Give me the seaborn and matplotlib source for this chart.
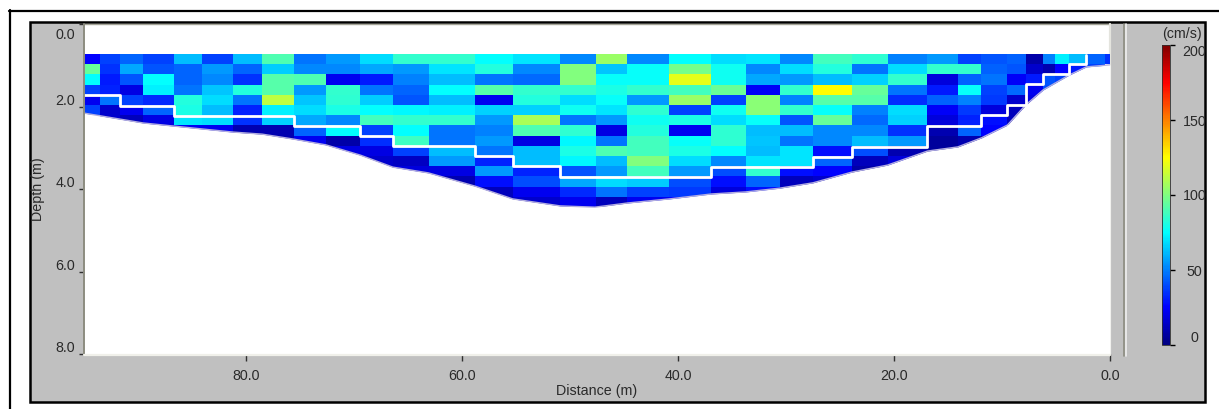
import numpy as np
import pandas as pd
import seaborn as sns
import matplotlib.pyplot as plt
from matplotlib.colors import LinearSegmentedColormap
from matplotlib.lines import Line2D
from matplotlib.patches import Rectangle
from matplotlib.transforms import ScaledTranslation

W, H = 1219, 409

# Column edges along the section (m from right bank), left to right
col_edges = [95.0, 93.5, 91.7, 89.5, 86.7, 84.1, 81.2, 78.5, 75.6, 72.6, 69.4, 66.4,
             63.1, 58.8, 55.3, 50.9, 47.6, 44.7, 40.8, 36.9, 33.7, 30.6, 27.5, 23.9,
             20.6, 16.9, 14.1, 11.9, 9.5, 7.8, 6.2, 5.1, 3.8, 2.2, 0.5, 0.0]

# Velocity (cm/s) per column, top cell first
velocity = [
    [25, 95, 75, 38, 22, 38],
    [38, 35, 30, 32, 48, 15, 15],
    [45, 58, 42, 20, 38, 22, 12],
    [38, 42, 75, 72, 33, 45, 20, 15],
    [62, 45, 45, 48, 82, 80, 70, 22],
    [38, 55, 52, 64, 68, 62, 68, 22],
    [62, 45, 35, 82, 48, 32, 35, 10],
    [90, 65, 92, 92, 112, 72, 66, 10, 10],
    [48, 52, 90, 55, 64, 68, 58, 45, 22],
    [55, 52, 22, 85, 84, 80, 52, 75, 8, 20],
    [68, 58, 30, 48, 65, 75, 88, 38, 34, 20, 15, 15],
    [85, 55, 50, 45, 42, 74, 85, 75, 87, 38, 14, 18],
    [85, 70, 62, 75, 62, 72, 85, 48, 48, 62, 55, 20, 10],
    [75, 82, 48, 92, 22, 66, 55, 50, 55, 48, 32, 55, 28, 12, 12],
    [70, 52, 46, 85, 82, 66, 108, 90, 20, 62, 62, 32, 40, 22, 15],
    [52, 100, 100, 85, 68, 78, 48, 84, 74, 80, 74, 42, 58, 33, 22],
    [105, 64, 76, 80, 76, 70, 55, 20, 48, 90, 62, 55, 68, 48, 12],
    [52, 76, 76, 85, 55, 84, 78, 82, 88, 88, 100, 88, 65, 38, 22],
    [75, 98, 120, 88, 105, 38, 80, 22, 76, 80, 68, 55, 40, 36, 25],
    [68, 78, 78, 96, 38, 78, 68, 84, 84, 75, 52, 40, 28, 18],
    [70, 52, 58, 24, 102, 102, 76, 62, 64, 62, 70, 85, 45, 28],
    [52, 68, 55, 85, 50, 85, 42, 62, 48, 70, 70, 28, 12, 10],
    [88, 82, 62, 125, 92, 76, 95, 52, 52, 28, 45, 25, 15],
    [84, 48, 66, 95, 92, 50, 46, 52, 62, 40, 12, 8],
    [50, 68, 85, 48, 34, 68, 66, 35, 55, 10, 18],
    [55, 85, 18, 30, 44, 24, 18, 10, 6, 6],
    [38, 85, 44, 76, 50, 36, 32, 45, 10, 8],
    [42, 44, 48, 38, 36, 18, 28, 25, 10],
    [44, 42, 24, 46, 15, 12, 12],
    [8, 15, 30, 22, 20],
    [50, 10, 42, 40],
    [72, 25, 38],
    [62, 30, 22],
    [45, 38],
    [35],
]

# Channel bed profile
bed_dist = [95.0, 89.5, 81.2, 78.5, 75.6, 72.6, 69.4, 66.4, 63.1, 58.8, 55.3, 50.9, 47.7,
            44.7, 40.8, 36.9, 33.7, 30.6, 27.5, 23.9, 20.6, 16.9, 14.1, 11.9, 9.5, 7.8,
            6.2, 3.8, 2.2, 0.0]
bed_depth = [2.16, 2.40, 2.62, 2.67, 2.79, 2.93, 3.18, 3.47, 3.61, 3.93, 4.24, 4.41, 4.44,
             4.34, 4.24, 4.12, 4.07, 3.98, 3.85, 3.59, 3.42, 3.08, 2.98, 2.76, 2.45, 1.96,
             1.60, 1.24, 1.04, 0.99]

# White boundary of the measured zone
zone_dist = [95.0, 91.7, 86.7, 75.6, 69.4, 66.4, 58.8, 55.3, 50.9, 36.9, 27.5, 23.9, 16.9,
             11.9, 9.5, 7.8, 6.2, 3.8, 2.2, 2.2]
zone_depth = [1.72, 1.98, 2.22, 2.47, 2.72, 2.96, 3.21, 3.45, 3.71, 3.46, 3.22, 2.97, 2.47,
              2.21, 1.96, 1.45, 1.21, 0.97, 0.75, 0.75]

depth_ticks = [0, 2, 4, 6, 8]
dist_ticks = [80, 60, 40, 20, 0]
speed_ticks = [0, 50, 100, 150, 200]

row_height = 0.2473
n_rows = 15
fine_step = 0.1

sns.set_theme(style='white')
plt.rcParams['font.family'] = ['Liberation Sans', 'DejaVu Sans']
TXT = '#2a2a2a'
FS = 10.3

# classic evenly spaced jet, cyan at 75 and yellow at 125
classic_jet = LinearSegmentedColormap.from_list('classic_jet', [
    (0.0, (0, 0, 0.5)), (0.125, (0, 0, 1)), (0.375, (0, 1, 1)),
    (0.625, (1, 1, 0)), (0.875, (1, 0, 0)), (1.0, (0.5, 0, 0))])


def box(x0, y0, x1, y1):
    # pixel box (y down) to figure fraction rect
    return [x0 / W, 1 - y1 / H, (x1 - x0) / W, (y1 - y0) / H]


fig = plt.figure(figsize=(W / 100, H / 100), dpi=100, facecolor='white')


def rect(x0, y0, x1, y1, **kw):
    l, b, w, h = box(x0, y0, x1, y1)
    fig.add_artist(Rectangle((l, b), w, h, transform=fig.transFigure, **kw))


def vline(x, y0, y1, color, lw=1.0, z=0.4):
    fig.add_artist(Line2D([x / W, x / W], [1 - y0 / H, 1 - y1 / H], color=color, lw=lw, zorder=z))


def hline(y, x0, x1, color, lw=1.0, z=0.4):
    fig.add_artist(Line2D([x0 / W, x1 / W], [1 - y / H, 1 - y / H], color=color, lw=lw, zorder=z))


# window chrome
hline(10.5, 9, W, 'black', 1.6)
vline(9.5, 10, H, 'black', 1.6)
rect(30, 22, 1205, 402, facecolor='#c0c0c0', edgecolor='black', lw=1.8, zorder=0.1)
rect(84, 24, 1109, 354, facecolor='white', edgecolor='none', zorder=0.2)
hline(23.5, 84, 1110, '#a5a598', 1.0)
vline(84, 24, 355, '#8c8c80', 1.4, z=5)
hline(355, 84, 1110, '#f0f0ea', 1.6, z=5)
vline(1110, 24, 356, '#e4e4de', 1.6)
vline(1124, 24, 356, '#8c8c80', 1.2)
vline(1126, 24, 356, '#eeeeee', 1.2)

# expand the uneven columns to a regular grid so the heatmap keeps their widths
edges = np.array(col_edges)
n_fine = int(round(edges[0] / fine_step))
centres = edges[0] - fine_step * (np.arange(n_fine) + 0.5)
col_of = np.searchsorted(-edges, -centres) - 1
grid = np.full((n_rows, n_fine), np.nan)
for j, c in enumerate(col_of):
    vals = velocity[c]
    grid[:len(vals), j] = vals
df = pd.DataFrame(grid)

heat_ax = fig.add_axes(box(84, 54, 1110, 54 + n_rows * row_height * 41.25), zorder=1)
cax = fig.add_axes(box(1162, 45, 1170, 345), zorder=3)
sns.heatmap(df, ax=heat_ax, cbar_ax=cax, cmap=classic_jet, vmin=0, vmax=200,
            xticklabels=False, yticklabels=False,
            cbar_kws={'ticks': speed_ticks})
heat_ax.set_xlabel('')
heat_ax.set_ylabel('')

cax.tick_params(length=3.5, width=1, color='black', pad=14, labelsize=FS, labelcolor=TXT, right=True)
for lbl, t in zip(cax.get_yticklabels(), speed_ticks):
    lbl.set_ha('center')
    if t == 200:
        lbl.set_va('top')
    if t == 0:
        lbl.set_va('bottom')
cbar = heat_ax.collections[0].colorbar
cbar.outline.set_edgecolor('#303030')
cbar.outline.set_linewidth(0.6)
fig.text(1182 / W, 1 - 34 / H, '(cm/s)', ha='center', va='center', fontsize=FS, color=TXT)

# section axes on top in real units
ax = fig.add_axes(box(84, 24, 1110, 354), zorder=2)
ax.patch.set_visible(False)
ax.set_xlim(95, 0)
ax.set_ylim(8, 0)
ax.fill_between(bed_dist, bed_depth, 8.5, color='white', lw=0, zorder=2)
sns.lineplot(x=bed_dist, y=bed_depth, ax=ax, color='#b3aee0', lw=1.0, sort=False,
             estimator=None, zorder=3)
sns.lineplot(x=zone_dist, y=zone_depth, ax=ax, color='white', lw=2.0, sort=False,
             estimator=None, drawstyle='steps-post', zorder=4)

for s in ax.spines.values():
    s.set_visible(False)
ax.set_xticks(dist_ticks, [f'{v:.1f}' for v in dist_ticks])
ax.set_yticks(depth_ticks, [f'{v:.1f}' for v in depth_ticks])
ax.tick_params(axis='x', bottom=True, length=5, width=1, color='#303030', pad=5.5,
               labelsize=FS, labelcolor=TXT, direction='out')
ax.tick_params(axis='y', left=True, length=3.5, width=1, color='#303030', pad=3,
               labelsize=FS, labelcolor=TXT, direction='out')
for lbl, t in zip(ax.get_yticklabels(), depth_ticks):
    if t == 0:
        lbl.set_va('top')
        lbl.set_transform(lbl.get_transform() + ScaledTranslation(0, -3 / 72, fig.dpi_scale_trans))
    else:
        lbl.set_va('bottom')
        lbl.set_transform(lbl.get_transform() + ScaledTranslation(0, -1 / 72, fig.dpi_scale_trans))

ax.set_xlabel('Distance (m)', fontsize=FS, color=TXT)
ax.set_ylabel('Depth (m)', fontsize=FS, color=TXT)
ax.xaxis.set_label_coords((597 - 84) / 1026, -(391 - 354) / 330, ax.transAxes)
ax.xaxis.label.set_va('center')
ax.yaxis.set_label_coords(-(84 - 38) / 1026, 1 - (189 - 24) / 330, ax.transAxes)
ax.yaxis.label.set_va('center')

fig.savefig('out.png', dpi=100)
